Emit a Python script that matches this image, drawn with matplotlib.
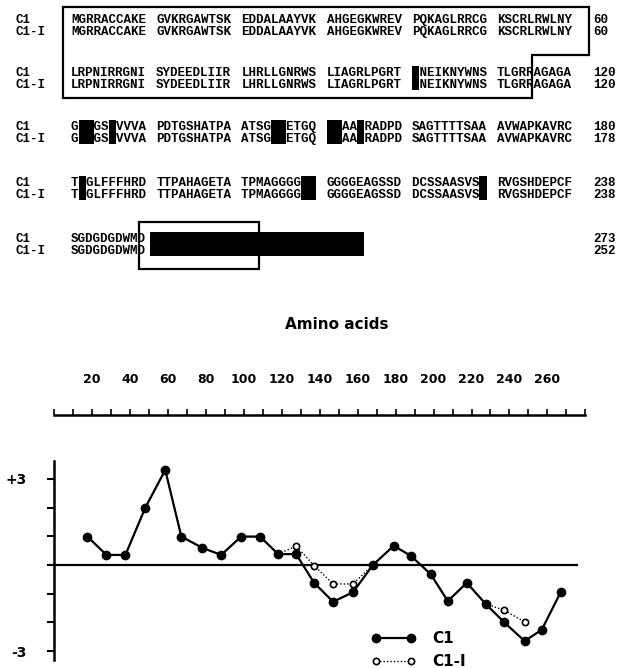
import matplotlib
matplotlib.use('Agg')
import matplotlib.pyplot as plt
from matplotlib.patches import Rectangle, Polygon

# ---------------------------------------------------------
# Alignment data, in blocks of ten (residues hidden under black boxes left blank)
# ---------------------------------------------------------
c1_rows = [
    ["MGRRACCAKE", "GVKRGAWTSK", "EDDALAAYVK", "AHGEGKWREV", "PQKAGLRRCG", "KSCRLRWLNY"],
    ["LRPNIRRGNI", "SYDEEDLIIR", "LHRLLGNRWS", "LIAGRLPGRT", " NEIKNYWNS", "TLGRRAGAGA"],
    ["G  GS VVVA", "PDTGSHATPA", "ATSG  ETGQ", "  AA RADPD", "SAGTTTTSAA", "AVWAPKAVRC"],
    ["T GLFFFHRD", "TTPAHAGETA", "TPMAGGGG  ", "GGGGEAGSSD", "DCSSAASVS ", "RVGSHDEPCF"],
    ["SGDGDGDWMD"],
]
c1i_rows = [list(r) for r in c1_rows]
c1_ends = ["60", "120", "180", "238", "273"]
c1i_ends = ["60", "120", "178", "238", "252"]

# black boxes: row, block, column in block, number of columns
hl_row = [1, 2, 2, 2, 2, 2, 3, 3, 3, 4]
hl_blk = [4, 0, 0, 2, 3, 3, 0, 2, 4, 1]
hl_col = [0, 1, 5, 4, 0, 4, 1, 8, 9, -0.85]
hl_len = [1, 2, 1, 2, 2, 1, 1, 2, 1, 28.5]

# ---------------------------------------------------------
# Hydropathy profile
# ---------------------------------------------------------
pos_c1 = [17.5, 27.5, 37.5, 48, 58.5, 67, 78, 88, 98.5, 108.5, 118, 127.5, 137,
          147, 157.5, 168, 179, 188, 198.5, 207.5, 217.5, 227.5, 237, 248, 257, 267]
hyd_c1 = [0.99, 0.35, 0.35, 2.0, 3.31, 0.99, 0.6, 0.35, 0.99, 0.99, 0.38, 0.38, -0.62,
          -1.28, -0.95, 0.0, 0.67, 0.32, -0.32, -1.26, -0.62, -1.36, -1.98, -2.65, -2.26, -0.95]
pos_c1i = pos_c1[:24]
hyd_c1i = [0.99, 0.35, 0.35, 2.0, 3.31, 0.99, 0.6, 0.35, 0.99, 0.99, 0.38, 0.66, -0.02,
           -0.66, -0.66, 0.0, 0.67, 0.32, -0.32, -1.26, -0.62, -1.36, -1.57, -1.98]

aa_ticks = list(range(0, 281, 10))
aa_labels = [str(t) if (t % 20 == 0 and 20 <= t <= 260) else '' for t in aa_ticks]

W, H = 632, 668
fig = plt.figure(figsize=(W / 100, H / 100), dpi=100)

# ---------------------------------------------------------
# Top: sequence alignment, drawn in pixel coordinates
# ---------------------------------------------------------
axt = fig.add_axes([0, 0, 1, 1])
axt.set_xlim(0, W)
axt.set_ylim(H, 0)
axt.axis('off')

x0 = 71.0          # first residue
fs_seq = 9.0
cw = fs_seq * (100 / 72) * 0.6   # monospace advance in pixels
blk_pitch = (572 - x0 - 10 * cw) / 5
row_y = [(19, 31), (72, 84), (126, 138), (182, 194), (238, 250)]
base_off = 4.3     # centre of capitals -> baseline
seq_font = dict(family='Liberation Mono', fontweight='bold', fontsize=fs_seq,
                va='baseline', ha='left')


def col_x(blk, col):
    return x0 + blk * blk_pitch + col * cw


for i in range(len(c1_rows)):
    ya, yb = row_y[i]
    axt.text(15, ya + base_off, "C1", **seq_font)
    axt.text(15, yb + base_off, "C1-I", **seq_font)
    for b, (sa, sb) in enumerate(zip(c1_rows[i], c1i_rows[i])):
        axt.text(col_x(b, 0), ya + base_off, sa, **seq_font)
        axt.text(col_x(b, 0), yb + base_off, sb, **seq_font)
    axt.text(593, ya + base_off, c1_ends[i], **seq_font)
    axt.text(593, yb + base_off, c1i_ends[i], **seq_font)

for r, b, c, n in zip(hl_row, hl_blk, hl_col, hl_len):
    ya, yb = row_y[r]
    axt.add_patch(Rectangle((col_x(b, c), ya - 6), n * cw, (yb - ya) + 12,
                            facecolor='black', edgecolor='none'))

# outlined regions
step_x = col_x(5, 4.6)
axt.add_patch(Polygon([(63, 7), (589, 7), (589, 55), (step_x, 55), (step_x, 98), (63, 98)],
                      closed=True, fill=False, edgecolor='black', linewidth=1.6))
axt.add_patch(Rectangle((col_x(0, 9), 222), 16 * cw, 47, fill=False,
                        edgecolor='black', linewidth=1.6))

# ---------------------------------------------------------
# Amino acid scale
# ---------------------------------------------------------
left = 54.3 / W
width = (585.3 - 54.3) / W
ax2 = fig.add_axes([left, 1 - 415 / H - 0.02, width, 0.02])
ax2.set_xlim(0, 280)
ax2.patch.set_visible(False)
for s in ['left', 'right', 'bottom']:
    ax2.spines[s].set_visible(False)
ax2.spines['top'].set_linewidth(1.8)
ax2.xaxis.tick_top()
ax2.set_xticks(aa_ticks)
ax2.set_xticklabels(aa_labels, fontweight='bold')
ax2.set_yticks([])
ax2.tick_params(axis='x', direction='out', length=4, width=1.2, pad=17, labelsize=9)
fig.text(337 / W, 1 - 325 / H, 'Amino acids', ha='center', va='center',
         fontsize=11, fontweight='bold')

# ---------------------------------------------------------
# Hydropathy plot
# ---------------------------------------------------------
ax = fig.add_axes([left, 1 - 660 / H, width, (660 - 460.7) / H])
ax.patch.set_visible(False)
ax.set_xlim(0, 280)
ax.set_ylim(-3.31, 3.634)
ax.hlines(0, 0, 276, color='black', linewidth=1.6)
h_c1i, = ax.plot(pos_c1i, hyd_c1i, linestyle=(0, (1, 1.5)), linewidth=1.0, color='black',
                 marker='o', markersize=4.5, markerfacecolor='white',
                 markeredgecolor='black', markeredgewidth=1.2)
h_c1, = ax.plot(pos_c1, hyd_c1, '-', linewidth=1.6, color='black',
                marker='o', markersize=6, markerfacecolor='black')
for s in ['top', 'right', 'bottom']:
    ax.spines[s].set_visible(False)
ax.spines['left'].set_linewidth(1.8)
ax.set_xticks([])
ax.set_yticks(range(-3, 4))
ax.set_yticklabels(['-3', '', '', '', '', '', '+3'], fontweight='bold')
ax.tick_params(axis='y', direction='out', length=5, width=1.5, pad=15, labelsize=10)

ax.legend([h_c1, h_c1i], ['C1', 'C1-I'], numpoints=2, frameon=False,
          loc='upper left', bbox_to_anchor=(371 / W, 1 - 631 / H),
          bbox_transform=fig.transFigure, borderpad=0, borderaxespad=0,
          handlelength=2.9, handletextpad=1.1, labelspacing=0.55,
          prop={'weight': 'bold', 'size': 11})

fig.savefig('out.png', dpi=100)
